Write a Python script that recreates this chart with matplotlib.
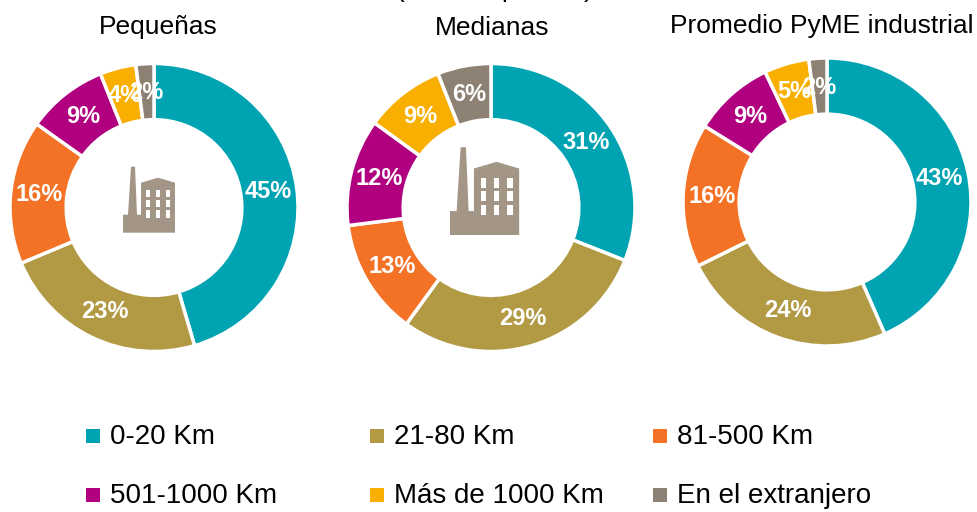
import matplotlib
matplotlib.use("Agg")
import matplotlib.pyplot as plt
from matplotlib.patches import Polygon, Rectangle

W, H = 978, 512

titles = ["Pequeñas", "Medianas", "Promedio PyME industrial"]
pequenas = [45, 23, 16, 9, 4, 2]
medianas = [31, 29, 13, 12, 9, 6]
promedio = [43, 24, 16, 9, 5, 2]
categories = ["0-20 Km", "21-80 Km", "81-500 Km", "501-1000 Km", "Más de 1000 Km", "En el extranjero"]
colors = ["#00A3B2", "#B29A45", "#F47226", "#B0007F", "#F8AF00", "#8D8174"]

plt.rcParams["font.family"] = ["Liberation Sans", "DejaVu Sans"]


def donut(fig, values, cx, cy, r):
    # axes placed in pixels, y from the top like the picture
    ax = fig.add_axes([(cx - r) / W, 1 - (cy + r) / H, 2 * r / W, 2 * r / H])
    wedges, _, pcts = ax.pie(
        values, colors=colors, startangle=90, counterclock=False, radius=1,
        autopct="%.0f%%", pctdistance=0.80,
        wedgeprops=dict(width=0.39, edgecolor="white", linewidth=2.5),
    )
    for t in pcts:
        t.set(color="white", fontsize=17, fontweight="bold")
    ax.set_xlim(-1, 1)
    ax.set_ylim(-1, 1)
    return ax


def factory(ov, x, y, s):
    # icon, x/y = lower left corner, s = scale
    col = "#A39686"
    pts = [(0, 0), (0, 18), (5, 18), (8, 66), (12, 66), (14, 18), (18, 18), (18, 50),
           (35, 55), (52, 50), (52, 0)]
    ov.add_patch(Polygon([(x + a * s, y - b * s) for a, b in pts], color=col, lw=0))
    for wx in (23, 33, 43):
        for wy in (15, 25.5, 35.5):
            ov.add_patch(Rectangle((x + wx * s, y - (wy + 7.5) * s), 4 * s, 7.5 * s, color="white", lw=0))


fig = plt.figure(figsize=(W / 100, H / 100), dpi=100)

donut(fig, pequenas, 154, 207.5, 144)
donut(fig, medianas, 491, 207.5, 144)
donut(fig, promedio, 827, 202, 144)

ov = fig.add_axes([0, 0, 1, 1], zorder=5)
ov.set_xlim(0, W)
ov.set_ylim(H, 0)
ov.axis("off")

ov.text(158, 27, titles[0], fontsize=19, ha="center", va="center")
ov.text(492, 28, titles[1], fontsize=19, ha="center", va="center")
ov.text(822, 26, titles[2], fontsize=19, ha="center", va="center")

# line cut by the top edge in the original, only the tips show
ov.text(400, -3, "(", fontsize=19, ha="center", va="baseline", clip_on=False)
ov.text(509, -3, "p", fontsize=19, ha="center", va="baseline", clip_on=False)
ov.text(588, -3, ")", fontsize=19, ha="center", va="baseline", clip_on=False)

factory(ov, 123, 232.7, 1.0)
factory(ov, 450, 235, 1.33)

leg_x = [93, 377, 660]
leg_y = [435.5, 494.5]
for i, name in enumerate(categories):
    x = leg_x[i % 3]
    y = leg_y[i // 3]
    ov.add_patch(Rectangle((x - 7, y - 7), 14, 14, color=colors[i], lw=0))
    ov.text(x + 17, y + 1.5, name, fontsize=20, ha="left", va="center")

fig.savefig("out.png", dpi=100)
